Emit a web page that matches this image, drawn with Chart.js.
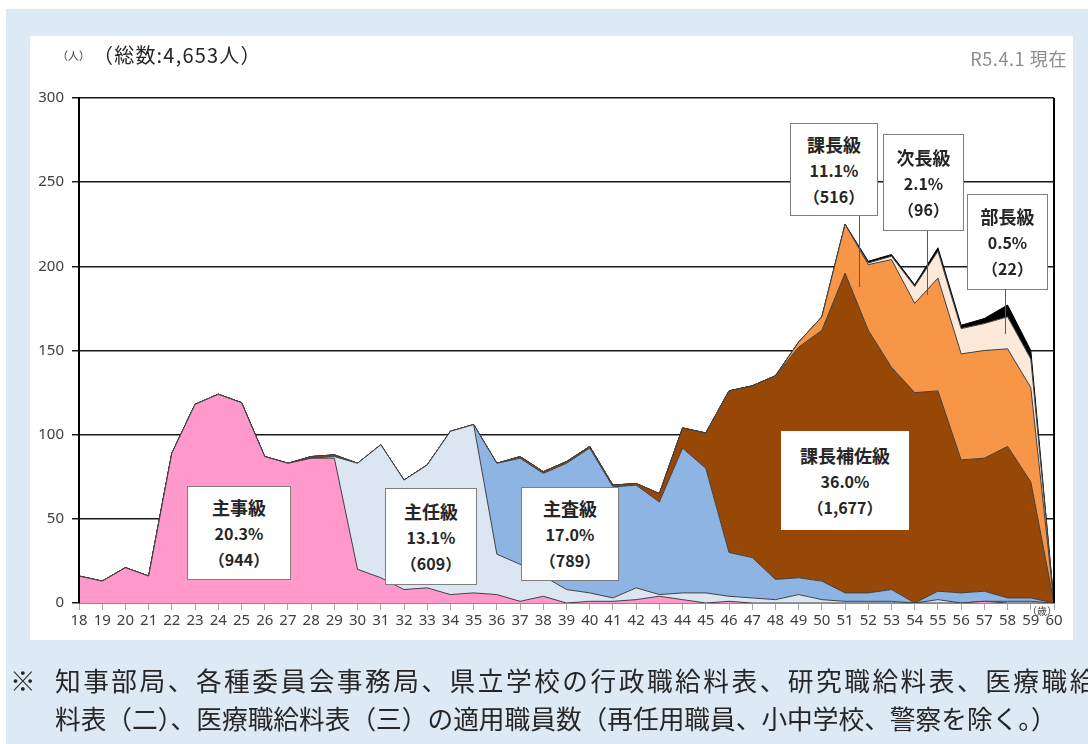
<!DOCTYPE html>
<html lang="ja">
<head>
<meta charset="utf-8">
<script src="https://cdn.jsdelivr.net/npm/chart.js@4.4.1/dist/chart.umd.min.js"></script>
<style>
  html, body { margin: 0; padding: 0; }
  body {
    width: 1088px; height: 744px; overflow: hidden; position: relative;
    background: #fff; font-family: "Noto Sans CJK JP", "Noto Sans", sans-serif; color: #262626;
  }
  #bg { position: absolute; left: 6px; top: 9px; right: 0; bottom: 0; background: #dde9f5; }
  #panel { position: absolute; left: 30px; top: 36px; width: 1043px; height: 604px; background: #fff; }
  #chart { position: absolute; left: 0; top: 0; }
  .txt { position: absolute; white-space: nowrap; }
  .box {
    position: absolute; background: #fff; border: 1px solid #7f7f7f; box-sizing: border-box;
    display: flex; flex-direction: column; justify-content: center; align-items: center;
    font-weight: bold; line-height: 26px; color: #262626;
  }
  .box .n { font-size: 18px; }
  .box .v { font-size: 16px; }
  .lead { position: absolute; width: 1px; background: #595959; }
  .note { position: absolute; white-space: nowrap; font-size: 25.7px; color: #262626; line-height: 30px; }
</style>
</head>
<body>
<div id="bg"></div>
<div id="panel"></div>
<canvas id="chart" width="1088" height="744"></canvas>

<div class="txt" style="left:57px; top:47px; font-size:11px; color:#404040;">（人）</div>
<div class="txt" style="left:93px; top:40px; font-size:20px; letter-spacing:1.2px; color:#262626;">（総数:4,653人）</div>
<div class="txt" style="right:21px; top:45px; font-size:18px; letter-spacing:0.6px; color:#8c8c8c;">R5.4.1 現在</div>
<div class="txt" style="left:1027px; top:603px; font-size:10px; color:#404040;">（歳）</div>

<div id="labels"></div>

<div class="note" style="left:10px; top:665px;">※</div>
<div class="note" style="left:55px; top:665px; letter-spacing:2.5px;">知事部局、各種委員会事務局、県立学校の行政職給料表、研究職給料表、医療職給</div>
<div class="note" style="left:55px; top:703px;">料表（二）、医療職給料表（三）の適用職員数（再任用職員、小中学校、警察を除く。）</div>

<script>
// 年齢（歳）
const ages = ['18','19','20','21','22','23','24','25','26','27','28','29','30','31','32','33','34','35','36','37','38',
              '39','40','41','42','43','44','45','46','47','48','49','50','51','52','53','54','55','56','57','58','59','60'];

// 職級別 職員数（18歳〜60歳）
const shuji     = [16,13,21,16,89,118,124,119,87,83,86,86,20,15,8,9,5,6,5,1,4, 0,1,1,2,4,2,0,1,0,0,0,0,0,0,0,0,0,0,1,0,0,0];
const shunin    = [0,0,0,0,0,0,0,0,0,0,0,1,63,79,65,73,97,100,24,22,12, 8,5,2,7,1,4,6,3,3,2,5,2,1,1,1,0,2,0,0,1,1,0];
const shusa     = [0,0,0,0,0,0,0,0,0,0,0,0,0,0,0,0,0,0,54,63,61, 75,86,66,61,55,86,74,26,24,12,10,11,5,5,7,0,5,6,6,2,2,0];
const hosa      = [0,0,0,0,0,0,0,0,0,0,1,1,0,0,0,0,0,0,0,1,1, 1,1,1,1,5,12,21,96,102,121,137,149,190,156,132,125,119,79,79,90,69,0];
const kacho     = [0,0,0,0,0,0,0,0,0,0,0,0,0,0,0,0,0,0,0,0,0, 0,0,0,0,0,0,0,0,0,0,3,8,29,39,64,53,67,63,64,58,56,0];
const jicho     = [0,0,0,0,0,0,0,0,0,0,0,0,0,0,0,0,0,0,0,0,0, 0,0,0,0,0,0,0,0,0,0,0,0,0,1,2,10,16,15,16,19,17,0];
const bucho     = [0,0,0,0,0,0,0,0,0,0,0,0,0,0,0,0,0,0,0,0,0, 0,0,0,0,0,0,0,0,0,0,0,0,0,1,1,1,2,2,3,7,5,0];

// 職級ラベル
const gradeNames  = ['主事級', '主任級', '主査級', '課長補佐級', '課長級', '次長級', '部長級'];
const gradePct    = ['20.3%', '13.1%', '17.0%', '36.0%', '11.1%', '2.1%', '0.5%'];
const gradeCount  = ['（944）', '（609）', '（789）', '（1,677）', '（516）', '（96）', '（22）'];
const gradeColors = ['#ff99cc', '#dce6f2', '#8eb4e3', '#974806', '#f79646', '#fde9d9', '#000000'];

// ラベル枠の位置 [left, top, width, height] と引出線 [x, y1, y2]
const boxPos  = [[187,486,104,94], [385,488,92,97], [521,487,98,94], [781,431,128,99],
                 [790,123,88,93], [883,134,81,97], [967,194,81,96]];
const leaders = [null, null, null, null, [859,216,287], [927,231,295], [1005,290,334]];

const series = [shuji, shunin, shusa, hosa, kacho, jicho, bucho];

// ラベル枠
const labelsDiv = document.getElementById('labels');
gradeNames.forEach((name, i) => {
  const [l, t, w, h] = boxPos[i];
  const box = document.createElement('div');
  box.className = 'box';
  box.style.cssText = `left:${l}px;top:${t}px;width:${w}px;height:${h}px;` + (i === 3 ? 'border-color:#fff;' : '');
  box.innerHTML = `<div class="n">${name}</div><div class="v">${gradePct[i]}</div><div class="v">${gradeCount[i]}</div>`;
  labelsDiv.appendChild(box);
  if (leaders[i]) {
    const [x, y1, y2] = leaders[i];
    const ln = document.createElement('div');
    ln.className = 'lead';
    ln.style.cssText = `left:${x}px;top:${y1}px;height:${y2 - y1}px;`;
    labelsDiv.appendChild(ln);
  }
});

// 右側の枠線
const rightFrame = {
  id: 'rightFrame',
  afterDraw(chart) {
    const { ctx, chartArea } = chart;
    ctx.save();
    ctx.strokeStyle = '#000';
    ctx.lineWidth = 2;
    ctx.beginPath();
    ctx.moveTo(chartArea.right, chartArea.top);
    ctx.lineTo(chartArea.right, chartArea.bottom);
    ctx.stroke();
    ctx.restore();
  }
};

new Chart(document.getElementById('chart').getContext('2d'), {
  type: 'line',
  data: {
    labels: ages,
    datasets: series.map((data, i) => ({
      label: gradeNames[i],
      data: data,
      fill: i === 0 ? 'origin' : '-1',
      backgroundColor: gradeColors[i],
      borderColor: i === 6 ? '#000' : '#404040',
      borderWidth: 1,
      pointRadius: 0,
      tension: 0
    }))
  },
  options: {
    responsive: false,
    devicePixelRatio: 1,
    animation: false,
    layout: { padding: { top: 98, right: 34, left: 0, bottom: 0 } },
    scales: {
      x: {
        offset: false,
        grid: { drawOnChartArea: false, drawTicks: true, tickLength: 7, color: '#a6a6a6' },
        border: { color: '#8c8c8c', width: 1 },
        ticks: { color: '#404040', font: { size: 15, family: 'Noto Sans' }, maxRotation: 0, autoSkip: false, padding: 2 },
        afterFit: s => { s.height = 141; }
      },
      y: {
        stacked: true,
        min: 0,
        max: 300,
        grid: { color: '#1a1a1a', lineWidth: 1.5, tickLength: 7 },
        border: { color: '#000', width: 2, z: 1 },
        ticks: { stepSize: 50, color: '#404040', font: { size: 15, family: 'Noto Sans' }, padding: 8 },
        afterFit: s => { s.width = 79; }
      }
    },
    plugins: {
      legend: { display: false },
      tooltip: { enabled: false }
    }
  },
  plugins: [rightFrame]
});
</script>
</body>
</html>
